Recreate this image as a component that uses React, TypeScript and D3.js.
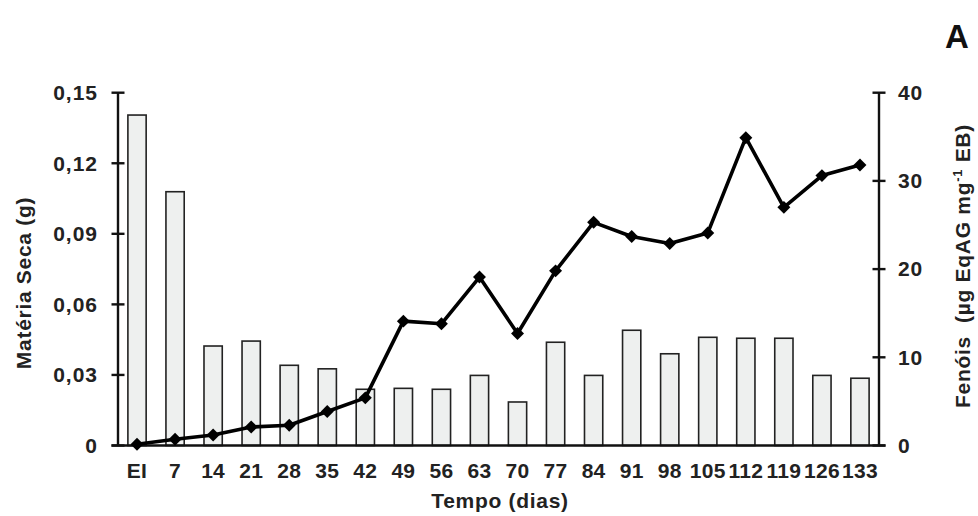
import React from "react";
import * as d3 from "d3";

// categories (days)
const days = ["EI", "7", "14", "21", "28", "35", "42", "49", "56", "63", "70", "77", "84", "91", "98", "105", "112", "119", "126", "133"];
// dry matter (g) - bars, left axis
const materiaSeca = [0.1405, 0.1079, 0.0423, 0.0444, 0.0341, 0.0326, 0.0239, 0.0243, 0.0239, 0.0298, 0.0185, 0.0439, 0.0298, 0.049, 0.039, 0.046, 0.0456, 0.0456, 0.0298, 0.0286];
// phenols - line, right axis
const fenois = [0.15, 0.7, 1.2, 2.1, 2.3, 3.85, 5.4, 14.1, 13.8, 19.1, 12.7, 19.8, 25.3, 23.7, 22.9, 24.1, 34.9, 27.0, 30.6, 31.8];

const leftTicks = [0, 0.03, 0.06, 0.09, 0.12, 0.15];
const rightTicks = [0, 10, 20, 30, 40];

const width = 978;
const height = 516;
const margin = { top: 92.7, right: 99, bottom: 70.5, left: 118 };
const font = "'Liberation Sans', Arial, sans-serif";
const ls = 0.7; // text looks slightly stretched in the original

const fmtLeft = (d: number) => (d === 0 ? "0" : d.toFixed(2).replace(".", ","));

export default function App() {
  const x = d3
    .scaleBand()
    .domain(days)
    .range([margin.left, width - margin.right])
    .paddingInner(0.52)
    .paddingOuter(0.26);
  const yL = d3.scaleLinear().domain([0, 0.15]).range([height - margin.bottom, margin.top]);
  const yR = d3.scaleLinear().domain([0, 40]).range([height - margin.bottom, margin.top]);

  const cx = (d: string) => (x(d) as number) + x.bandwidth() / 2;
  const line = d3
    .line<number>()
    .x((_, i) => cx(days[i]))
    .y((d) => yR(d));
  const diamond = d3.symbol().type(d3.symbolSquare).size(84)();

  const x0 = margin.left;
  const x1 = width - margin.right;
  const y0 = height - margin.bottom;

  return (
    <div style={{ position: "fixed", left: 0, top: 0 }}>
      <svg width={width} height={height} style={{ display: "block", background: "#fff" }} fontFamily={font}>
        {/* bars */}
        {materiaSeca.map((v, i) => (
          <rect
            key={"b" + i}
            x={x(days[i])}
            y={yL(v)}
            width={x.bandwidth()}
            height={y0 - yL(v)}
            fill="#eef0ef"
            stroke="#222"
            strokeWidth={1.6}
          />
        ))}

        {/* left axis */}
        <line x1={x0} x2={x0} y1={margin.top} y2={y0} stroke="#111" strokeWidth={2.4} />
        {leftTicks.map((t) => (
          <g key={"l" + t}>
            <line x1={x0 - 6.5} x2={x0 + 6.5} y1={yL(t)} y2={yL(t)} stroke="#111" strokeWidth={2.4} />
            <text x={98} y={yL(t)} dy="0.35em" textAnchor="end" fontSize={21} letterSpacing={1} fontWeight="bold" fill="#222">
              {fmtLeft(t)}
            </text>
          </g>
        ))}

        {/* right axis */}
        <line x1={x1} x2={x1} y1={margin.top} y2={y0} stroke="#111" strokeWidth={2.4} />
        {rightTicks.map((t) => (
          <g key={"r" + t}>
            <line x1={x1 - 6.5} x2={x1 + 6.5} y1={yR(t)} y2={yR(t)} stroke="#111" strokeWidth={2.4} />
            <text x={898} y={yR(t)} dy="0.35em" textAnchor="start" fontSize={21} letterSpacing={ls} fontWeight="bold" fill="#222">
              {t}
            </text>
          </g>
        ))}

        {/* x axis */}
        <line x1={x0 - 6.5} x2={x1 + 6.5} y1={y0} y2={y0} stroke="#111" strokeWidth={2.4} />
        {days.map((d) => (
          <text key={"x" + d} x={cx(d)} y={478} textAnchor="middle" fontSize={21} letterSpacing={0.3} fontWeight="bold" fill="#222">
            {d}
          </text>
        ))}

        {/* phenols line */}
        <path d={line(fenois) || ""} fill="none" stroke="#000" strokeWidth={3.6} strokeLinejoin="round" />
        {fenois.map((v, i) => (
          <path key={"m" + i} d={diamond || ""} transform={`translate(${cx(days[i])},${yR(v)}) rotate(45)`} fill="#000" />
        ))}

        {/* titles */}
        <text x={500} y={508} textAnchor="middle" fontSize={21} letterSpacing={ls} fontWeight="bold" fill="#222">
          Tempo (dias)
        </text>
        <text
          transform={`translate(31,283) rotate(-90)`}
          textAnchor="middle"
          fontSize={21}
          letterSpacing={ls}
          fontWeight="bold"
          fill="#222"
        >
          Matéria Seca (g)
        </text>
        <text
          transform={`translate(970,266) rotate(-90)`}
          textAnchor="middle"
          fontSize={21}
          letterSpacing={ls}
          fontWeight="bold"
          fill="#222"
        >
          Fenóis{"\u00a0\u00a0"}(µg EqAG mg
          <tspan dy={-8} fontSize={13}>-1</tspan>
          <tspan dy={8}> EB)</tspan>
        </text>
        <text x={957} y={48} textAnchor="middle" fontSize={33} fontWeight="bold" fill="#111">
          A
        </text>
      </svg>
    </div>
  );
}
